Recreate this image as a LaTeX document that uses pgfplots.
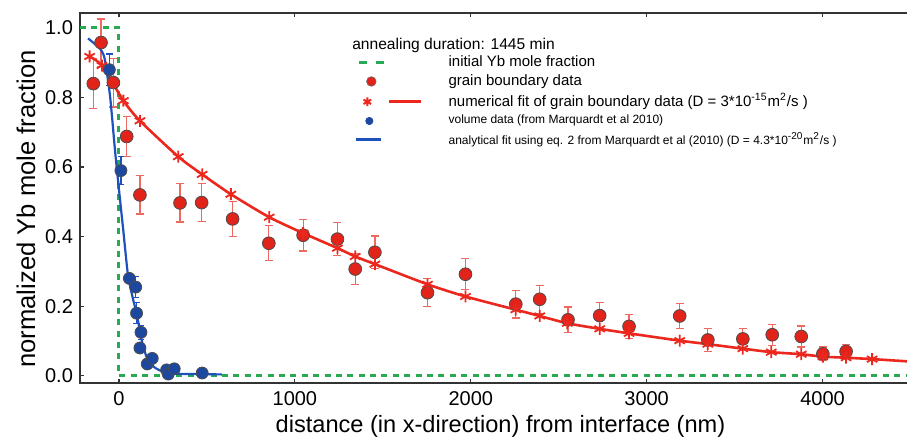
\documentclass[border=0pt]{standalone}
\usepackage{fontspec}
\setmainfont{Liberation Sans}
\usepackage{pgfplots}
\pgfplotsset{compat=1.18}

\definecolor{gbred}{RGB}{226,35,26}
\definecolor{fitred}{RGB}{236,40,30}
\definecolor{errred}{RGB}{238,105,95}
\definecolor{volblue}{RGB}{28,72,160}
\definecolor{fitblue}{RGB}{30,80,190}
\definecolor{initgreen}{RGB}{40,170,80}

\begin{document}
\begin{tikzpicture}
\useasboundingbox (-40pt,-28.5pt) rectangle (413.8pt,191.5pt);
\begin{axis}[
    scale only axis,
    width=420.8pt, height=185pt,
    xmin=-222, xmax=4560,
    ymin=-0.02, ymax=1.043,
    xtick={0,1000,2000,3000,4000},
    ytick={0,0.2,0.4,0.6,0.8,1.0},
    xtick pos=both, ytick pos=both,
    tick align=inside,
    major tick length=2pt,
    tick style={black!80, line width=0.6pt},
    axis line style={black!80, line width=0.8pt},
    /pgf/number format/assume math mode=true,
    /pgf/number format/1000 sep={},
    yticklabel style={/pgf/number format/.cd, fixed, fixed zerofill, precision=1},
    ticklabel style={font=\fontsize{10}{12}\selectfont},
    xticklabel style={yshift=-1pt},
    xlabel={distance (in x-direction) from interface (nm)},
    ylabel={normalized Yb mole fraction},
    xlabel style={font=\fontsize{11.8}{13}\selectfont, yshift=2pt},
    ylabel style={font=\fontsize{12.8}{14}\selectfont, at={(ticklabel cs:0.47)}, yshift=-2pt},
    clip=true,
    legend cell align=left,
    legend style={at={(axis cs:1341,0.922)}, anchor=north west,
        draw=none, fill=none, inner sep=0pt, row sep=2.6pt, column sep=13pt,
        nodes={inner sep=0pt},
        font=\fontsize{7.5}{8.5}\selectfont},
]

% initial profile
\addplot[initgreen, line width=1.5pt, dash pattern=on 3pt off 2.7pt, forget plot]
  coordinates {(-222,1.0) (0,1.0) (0,0) (4560,0)};

% grain boundary data
\addplot[forget plot, only marks, mark=*, mark size=3.2pt,
    mark options={fill=gbred, draw=black!70, line width=0.4pt},
    error bars/.cd, y dir=both, y explicit,
    error bar style={errred, line width=0.6pt},
    error mark options={rotate=90, errred, line width=0.6pt, mark size=2pt}]
  coordinates {
    (-146,0.840) +- (0,0.072)
    (-102,0.958) +- (0,0.068)
    (-32,0.843) +- (0,0.070)
    (44,0.688) +- (0,0.058)
    (119,0.520) +- (0,0.055)
    (347,0.497) +- (0,0.055)
    (470,0.498) +- (0,0.055)
    (646,0.451) +- (0,0.050)
    (852,0.381) +- (0,0.050)
    (1047,0.404) +- (0,0.045)
    (1242,0.393) +- (0,0.047)
    (1343,0.307) +- (0,0.045)
    (1455,0.355) +- (0,0.047)
    (1754,0.239) +- (0,0.040)
    (1970,0.292) +- (0,0.045)
    (2256,0.206) +- (0,0.040)
    (2392,0.220) +- (0,0.040)
    (2553,0.161) +- (0,0.037)
    (2733,0.173) +- (0,0.038)
    (2900,0.142) +- (0,0.035)
    (3188,0.172) +- (0,0.037)
    (3348,0.103) +- (0,0.032)
    (3547,0.106) +- (0,0.030)
    (3714,0.118) +- (0,0.030)
    (3879,0.113) +- (0,0.030)
    (4002,0.063) +- (0,0.020)
    (4134,0.070) +- (0,0.020)
  };

% numerical fit line
\addplot[fitred, line width=1.3pt, smooth, tension=0.4, forget plot]
  coordinates {
    (-167,0.918) (-97,0.892) (25,0.791) (119,0.733) (337,0.630) (473,0.579)
    (636,0.522) (854,0.456) (1047,0.410) (1242,0.367) (1343,0.343) (1455,0.321)
    (1754,0.263) (1970,0.228) (2256,0.190) (2392,0.172) (2549,0.151) (2733,0.135)
    (2900,0.122) (3188,0.101) (3348,0.091) (3547,0.078) (3709,0.068) (3879,0.062)
    (4002,0.055) (4134,0.052) (4282,0.048) (4560,0.039)
  };
% numerical fit points
\addplot[only marks, mark=asterisk, mark size=3pt, fitred,
    mark options={line width=0.9pt}, forget plot]
  coordinates {
    (-167,0.918) (-97,0.892) (25,0.791) (119,0.733) (337,0.630) (473,0.579)
    (636,0.522) (854,0.456) (1047,0.410) (1242,0.367) (1343,0.343) (1455,0.321)
    (1754,0.263) (1970,0.228) (2256,0.190) (2392,0.172) (2549,0.151) (2733,0.135)
    (2900,0.122) (3188,0.101) (3348,0.091) (3547,0.078) (3709,0.068) (3879,0.062)
    (4002,0.055) (4134,0.052) (4282,0.048)
  };

% volume data
\addplot[forget plot, only marks, mark=*, mark size=3pt,
    mark options={fill=volblue, draw=black!70, line width=0.4pt},
    error bars/.cd, y dir=both, y explicit,
    error bar style={fitblue, line width=0.6pt},
    error mark options={rotate=90, fitblue, line width=0.6pt, mark size=1.6pt}]
  coordinates {
    (-55,0.880) +- (0,0.045)
    (11,0.590) +- (0,0.040)
    (59,0.280) +- (0,0.010)
    (95,0.255) +- (0,0.030)
    (100,0.180) +- (0,0.030)
    (125,0.125) +- (0,0.020)
    (119,0.080) +- (0,0.010)
    (161,0.034) +- (0,0.005)
    (189,0.050) +- (0,0.005)
    (271,0.017) +- (0,0.005)
    (280,0.005) +- (0,0.005)
    (314,0.020) +- (0,0.005)
    (473,0.008) +- (0,0.003)
  };

% analytical fit
\addplot[fitblue, line width=1.1pt, smooth, tension=0.4, forget plot]
  coordinates {
    (-176,0.970) (-140,0.955) (-100,0.935) (-80,0.908) (-50,0.800) (-23,0.650)
    (0,0.535) (24,0.420) (51,0.290) (80,0.220) (100,0.180) (130,0.100)
    (160,0.050) (200,0.025) (250,0.012) (320,0.006) (585,0.004)
  };

% legend
\addlegendimage{legend image code/.code={
    \path[draw=none] (0pt,0pt) -- (32.5pt,0pt);
    \draw[initgreen, line width=1.4pt, dash pattern=on 4pt off 4.5pt] (1.5pt,0pt) -- (15pt,0pt);}}
\addlegendentry{initial Yb mole fraction}
\addlegendimage{legend image code/.code={
    \path[draw=none] (0pt,0pt) -- (32.5pt,0pt);
    \filldraw[fill=gbred, draw=black!60, line width=0.3pt] (7.5pt,0pt) circle (2.4pt);}}
\addlegendentry{grain boundary data}
\addlegendimage{legend image code/.code={
    \path[draw=none] (0pt,0pt) -- (32.5pt,0pt);
    \draw[fitred, line width=1.3pt] (16.5pt,0pt) -- (32.5pt,0pt);
    \path[draw=none] plot[mark=asterisk, mark size=2.2pt, mark options={draw=fitred, line width=1pt}] coordinates {(5.5pt,0pt)};}}
\addlegendentry{numerical fit of grain boundary data (D = 3*10\textsuperscript{-15}m\textsuperscript{2}/s )}
\addlegendimage{legend image code/.code={
    \path[draw=none] (0pt,0pt) -- (32.5pt,0pt);
    \fill[volblue] (6.5pt,0pt) circle (1.8pt);}}
\addlegendentry{\fontsize{6}{7}\selectfont volume data (from Marquardt et al 2010)}
\addlegendimage{legend image code/.code={
    \path[draw=none] (0pt,0pt) -- (32.5pt,0pt);
    \draw[fitblue, line width=1.1pt] (0pt,0pt) -- (12.5pt,0pt);}}
\addlegendentry{\fontsize{6}{7}\selectfont analytical fit using eq. 2 from Marquardt et al (2010) (D = 4.3*10\textsuperscript{-20}m\textsuperscript{2}/s )}

\node[anchor=west, inner sep=0pt, font=\fontsize{7.8}{9}\selectfont]
  at (axis cs:1324,0.951) {annealing duration: 1445 min};
\end{axis}
\end{tikzpicture}
\end{document}
